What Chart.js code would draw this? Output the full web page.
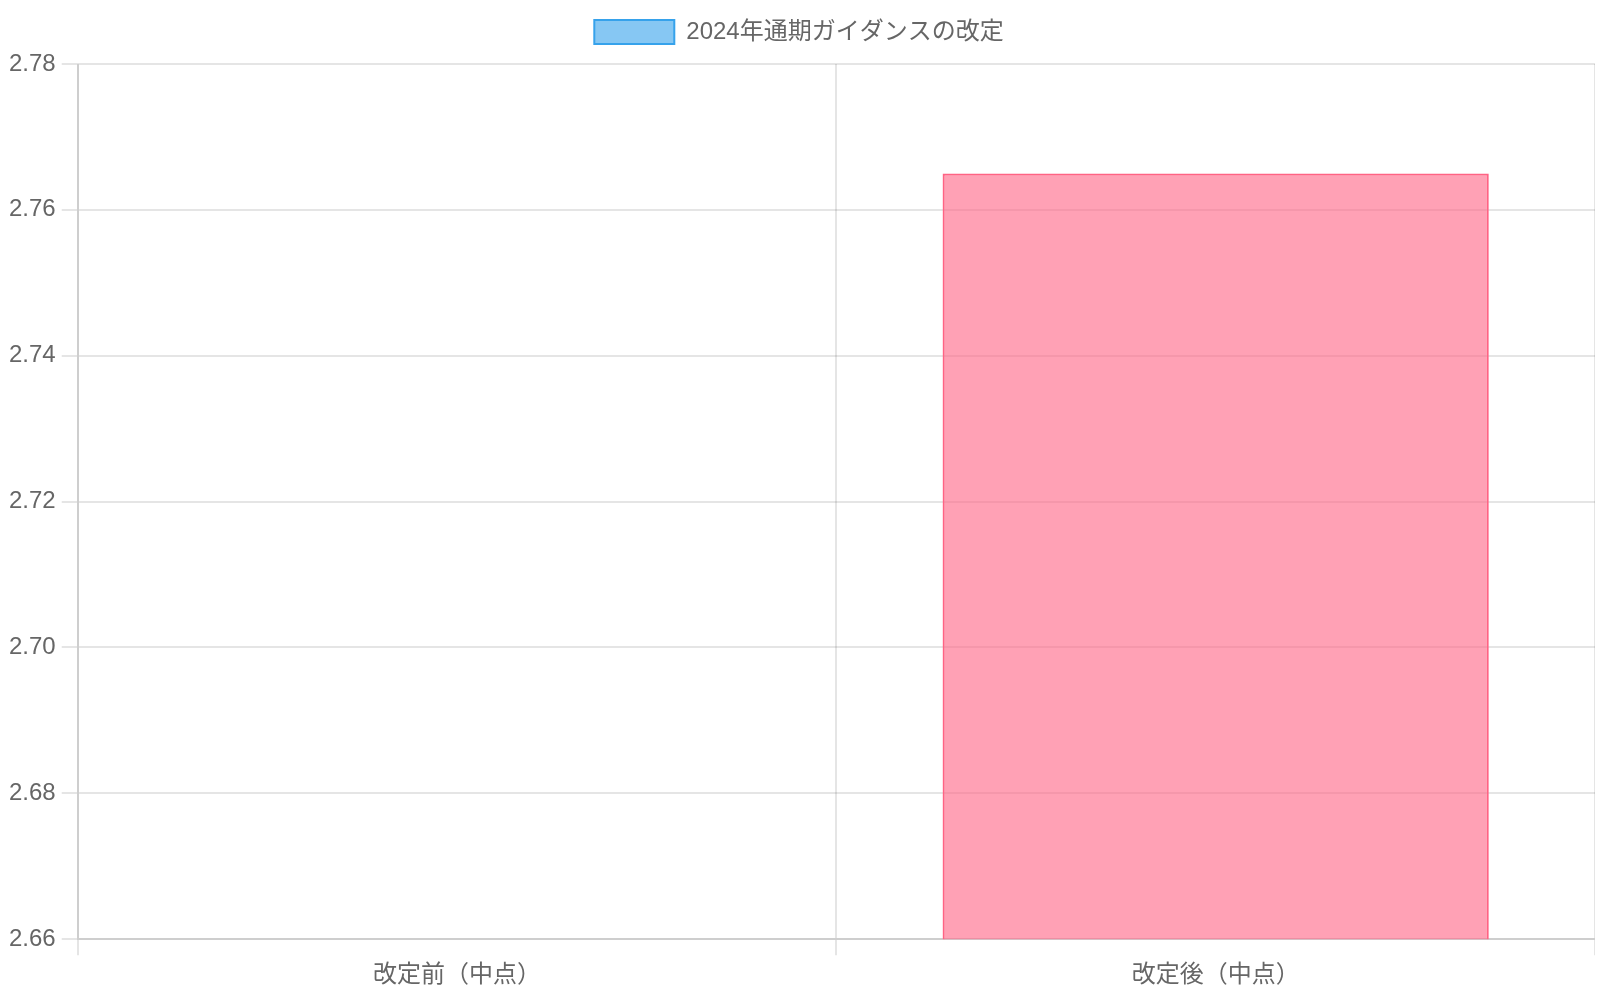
<!DOCTYPE html>
<html>
<head>
<meta charset="utf-8">
<script src="https://cdn.jsdelivr.net/npm/chart.js@4"></script>
<style>
  body { margin: 0; background: #fff; }
  #chart { display: block; margin-left: 3px; width: 1592px !important; height: 996px !important; }
</style>
</head>
<body>
<canvas id="chart" width="796" height="498"></canvas>
<script>
const labels = ['改定前（中点）', '改定後（中点）'];
const values = [2.65, 2.765];
const fills = ['rgba(54, 162, 235, 0.6)', 'rgba(255, 99, 132, 0.6)'];
const borders = ['rgb(54, 162, 235)', 'rgb(255, 99, 132)'];

Chart.defaults.font.family = '"Helvetica Neue", Helvetica, Arial, "Noto Sans CJK JP", sans-serif';

// drawn at half size with a 2x backing store, shown at full size by the css above
new Chart(document.getElementById('chart'), {
  type: 'bar',
  data: {
    labels,
    datasets: [{
      label: '2024年通期ガイダンスの改定',
      data: values,
      backgroundColor: fills,
      borderColor: borders,
      borderWidth: 1
    }]
  },
  options: {
    responsive: false,
    devicePixelRatio: 2,
    animation: false,
    scales: {
      y: { min: 2.66, max: 2.78, ticks: { stepSize: 0.02 } }
    }
  }
});
</script>
</body>
</html>
